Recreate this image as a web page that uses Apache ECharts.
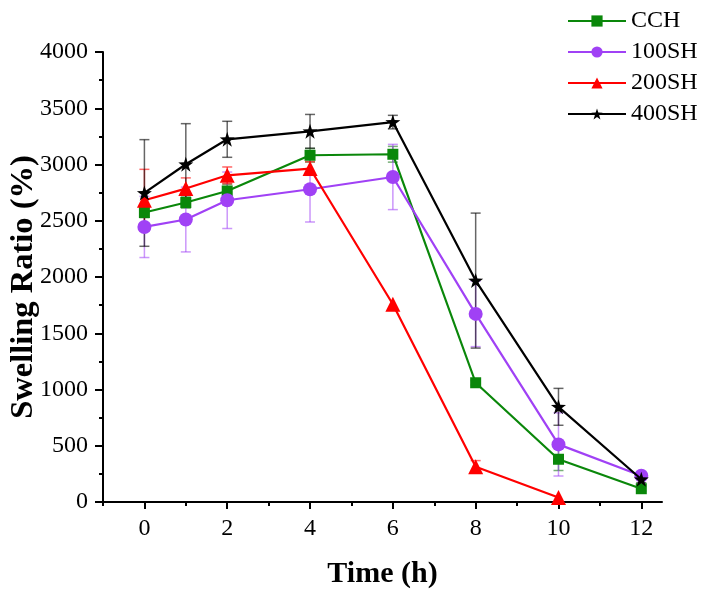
<!DOCTYPE html>
<html>
<head>
<meta charset="utf-8">
<script src="https://cdn.jsdelivr.net/npm/echarts@6/dist/echarts.min.js"></script>
<style>html,body{margin:0;padding:0;background:#fff}#c{width:711px;height:592px}</style>
</head>
<body>
<div id="c"></div>
<script>
// Data
var times = [0, 1, 2, 4, 6, 8, 10, 12];
var ccH = [2573, 2662, 2765, 3082, 3091, 1060, 380, 118];
var ccHErr = [45, 50, 60, 60, 70, 20, 100, 20];
var sh100 = [2445, 2511, 2682, 2780, 2889, 1672, 512, 234];
var sh100Err = [272, 288, 251, 291, 290, 291, 281, 20];
var sh200 = [2682, 2786, 2904, 2964, 1758, 313, 40];
var sh200Err = [275, 95, 74, 60, 0, 55, 0];
var sh400 = [2747, 3002, 3224, 3295, 3377, 1968, 846, 202];
var sh400Err = [474, 361, 160, 150, 60, 600, 164, 30];
var xMajorTicks = [0, 2, 4, 6, 8, 10, 12];
var xMinorTicks = [-1, 1, 3, 5, 7, 9, 11];
var seriesNames = ['CCH', '100SH', '200SH', '400SH'];

var colors = ['#0a870a', '#a041f5', '#ff0000', '#000000'];
var errColors = ['rgba(10,110,10,0.55)', 'rgba(160,65,245,0.55)', 'rgba(255,0,0,0.6)', 'rgba(0,0,0,0.6)'];
var symbols = ['rect', 'circle', 'triangle',
  'path://M50,0 L61.8,36.2 L100,38.2 L69.1,61.8 L80.9,100 L50,76.4 L19.1,100 L30.9,61.8 L0,38.2 L38.2,36.2 Z'];
var symbolSizes = [11, 14, 15, 15];
var vals = [ccH, sh100, sh200, sh400];
var errs = [ccHErr, sh100Err, sh200Err, sh400Err];

function pairs(v) { return v.map(function (y, i) { return [times[i], y]; }); }
function errRows(v, e) {
  var out = [];
  v.forEach(function (y, i) { if (e[i] > 0) out.push([times[i], y - e[i], y + e[i]]); });
  return out;
}

var series = [];
vals.forEach(function (v, k) {
  series.push({
    type: 'custom',
    name: seriesNames[k] + '_err',
    xAxisIndex: 0, yAxisIndex: 0,
    data: errRows(v, errs[k]),
    z: 1,
    silent: true,
    renderItem: function (params, api) {
      var x = api.value(0);
      var lo = api.coord([x, api.value(1)]);
      var hi = api.coord([x, api.value(2)]);
      var w = 5;
      var st = { stroke: errColors[k], lineWidth: 1.5 };
      return {
        type: 'group',
        children: [
          { type: 'line', shape: { x1: lo[0], y1: lo[1], x2: hi[0], y2: hi[1] }, style: st },
          { type: 'line', shape: { x1: lo[0] - w, y1: lo[1], x2: lo[0] + w, y2: lo[1] }, style: st },
          { type: 'line', shape: { x1: hi[0] - w, y1: hi[1], x2: hi[0] + w, y2: hi[1] }, style: st }
        ]
      };
    }
  });
});
vals.forEach(function (v, k) {
  series.push({
    type: 'line',
    name: seriesNames[k],
    data: pairs(v),
    symbol: symbols[k],
    symbolSize: symbolSizes[k],
    showAllSymbol: true,
    z: 3 + k,
    color: colors[k],
    lineStyle: { width: 2.2, color: colors[k] },
    itemStyle: { color: colors[k], opacity: 1 },
    emphasis: { disabled: true }
  });
});

var font = 'Liberation Serif';
var chart = echarts.init(document.getElementById('c'), null, { renderer: 'canvas' });
chart.setOption({
  animation: false,
  backgroundColor: '#ffffff',
  grid: { left: 103, right: 49, top: 52, bottom: 90, outerBoundsMode: 'none', containLabel: false },
  legend: {
    data: seriesNames,
    orient: 'vertical',
    left: 562,
    top: 3,
    itemWidth: 58,
    itemHeight: 14,
    itemGap: 5,
    textStyle: { fontFamily: font, fontSize: 24, color: '#000', lineHeight: 26, padding: [0, 0, 0, 0] }
  },
  xAxis: [{
    type: 'value',
    min: -1, max: 12.5, interval: 1,
    name: 'Time (h)',
    nameLocation: 'middle',
    nameGap: 57,
    nameTextStyle: { fontFamily: font, fontSize: 30, fontWeight: 'bold', color: '#000' },
    axisLine: { show: true, onZero: false, lineStyle: { color: '#000', width: 2 } },
    axisTick: { show: true, inside: false, length: 7, lineStyle: { color: '#000', width: 2 }, customValues: xMajorTicks },
    axisLabel: { fontFamily: font, fontSize: 24, color: '#000', margin: 15, customValues: xMajorTicks },
    splitLine: { show: false }
  }, {
    type: 'value',
    position: 'bottom',
    min: -1, max: 12.5, interval: 1,
    axisLine: { show: false, onZero: false },
    axisTick: { show: true, inside: false, length: 4, lineStyle: { color: '#000', width: 2 }, customValues: xMinorTicks },
    axisLabel: { show: false },
    splitLine: { show: false }
  }],
  yAxis: {
    type: 'value',
    min: 0, max: 4000, interval: 500,
    name: 'Swelling Ratio (%)',
    nameLocation: 'middle',
    nameGap: 63,
    nameMoveOverlap: false,
    nameTextStyle: { fontFamily: font, fontSize: 32.5, fontWeight: 'bold', color: '#000', padding: [0, 20, 0, 0] },
    axisLine: { show: true, onZero: false, lineStyle: { color: '#000', width: 2 } },
    axisTick: { show: true, inside: false, length: 8, lineStyle: { color: '#000', width: 2 } },
    minorTick: { show: true, splitNumber: 2, length: 4, lineStyle: { color: '#000', width: 2 } },
    axisLabel: { fontFamily: font, fontSize: 24, color: '#000', margin: 15, formatter: function (v) { return String(v); } },
    splitLine: { show: false },
    minorSplitLine: { show: false }
  },
  series: series
});
</script>
</body>
</html>
